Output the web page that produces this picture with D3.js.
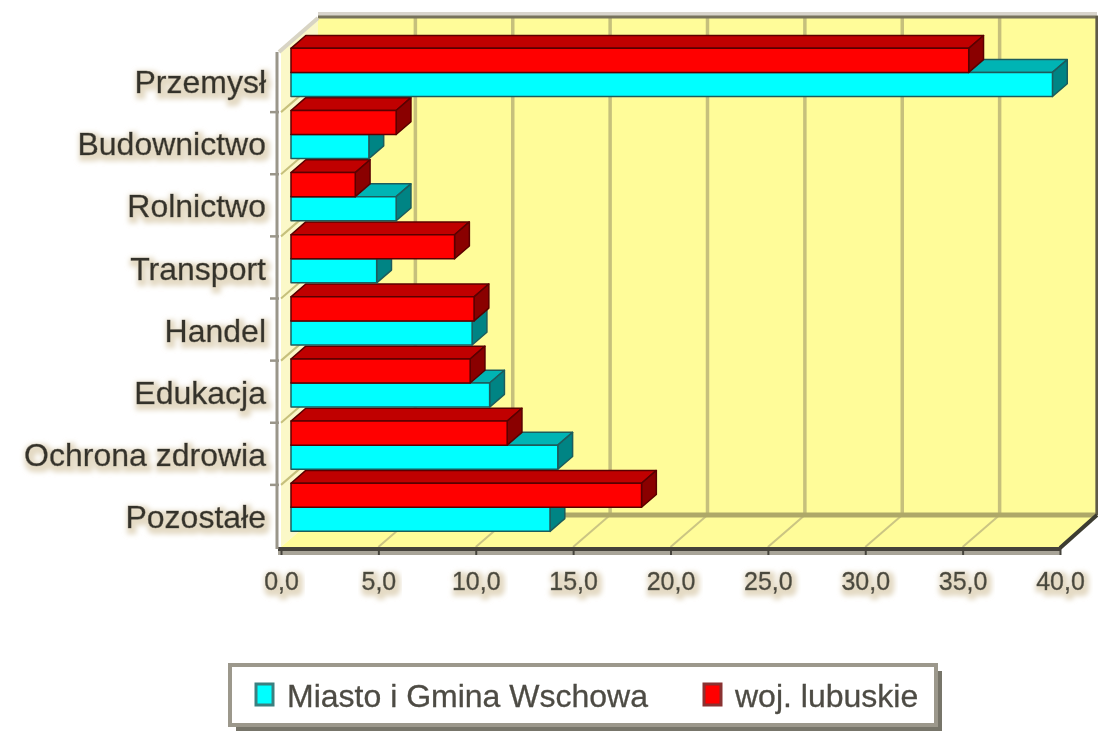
<!DOCTYPE html>
<html>
<head>
<meta charset="utf-8">
<script src="https://cdn.jsdelivr.net/npm/d3@7"></script>
<style>
  html, body { margin: 0; padding: 0; background: #fff; }
  svg { display: block; }
  text { font-family: "Liberation Sans", Arial, sans-serif; }
</style>
</head>
<body>
<svg id="chart" width="1098" height="736"></svg>
<script>
const categories = ['Przemysł', 'Budownictwo', 'Rolnictwo', 'Transport', 'Handel', 'Edukacja', 'Ochrona zdrowia', 'Pozostałe'];
const miasto = [39.1, 4.0, 5.4, 4.4, 9.3, 10.2, 13.7, 13.3];
const lubuskie = [34.8, 5.4, 3.3, 8.4, 9.4, 9.2, 11.1, 18.0];
const seriesNames = ['Miasto i Gmina Wschowa', 'woj. lubuskie'];
const xTicks = [0, 5, 10, 15, 20, 25, 30, 35, 40];

const svg = d3.select('#chart');
const defs = svg.append('defs');

// soft beige halo behind texts, like the source image
const halo = defs.append('filter').attr('id', 'halo')
    .attr('x', '-10%').attr('y', '-40%').attr('width', '125%').attr('height', '190%');
halo.append('feMorphology').attr('in', 'SourceAlpha').attr('operator', 'dilate').attr('radius', 3).attr('result', 'd');
halo.append('feOffset').attr('in', 'd').attr('dx', 2).attr('dy', 3).attr('result', 'o');
halo.append('feGaussianBlur').attr('in', 'o').attr('stdDeviation', 2.5).attr('result', 'b');
halo.append('feFlood').attr('flood-color', '#e4dac4');
halo.append('feComposite').attr('in2', 'b').attr('operator', 'in').attr('result', 'h');
const hm = halo.append('feMerge');
hm.append('feMergeNode').attr('in', 'h');
hm.append('feMergeNode').attr('in', 'SourceGraphic');

const soft = defs.append('filter').attr('id', 'soft');
soft.append('feGaussianBlur').attr('stdDeviation', 0.6);

const root = svg.append('g').attr('filter', 'url(#soft)');

// front plane geometry and depth offset
const x = d3.scaleLinear().domain([0, 40]).range([281, 1060]);
const y = d3.scaleBand().domain(categories).range([50, 547]).paddingInner(0.225).paddingOuter(0.1125);
const yEdge = d3.scaleBand().domain(categories).range([50, 547]);
const sub = d3.scaleBand().domain(['lubuskie', 'miasto']).range([0, y.bandwidth()]);
const DX = 37, DY = 32;
const zBar = 0.27, zDepth = 0.4;

const yTop = 50, yBottom = 547;
const x0 = x(0), x1 = x(40);

// left wall
root.append('polygon')
    .attr('points', [[x0, yTop], [x0 + DX, yTop - DY], [x0 + DX, yBottom - DY], [x0, yBottom]].join(' '))
    .attr('fill', '#fbf8c8');

// back wall
root.append('rect')
    .attr('x', x0 + DX).attr('y', yTop - DY)
    .attr('width', x1 - x0).attr('height', yBottom - yTop)
    .attr('fill', '#fffc99');

// floor
root.append('polygon')
    .attr('points', [[x0, yBottom], [x1, yBottom], [x1 + DX, yBottom - DY], [x0 + DX, yBottom - DY]].join(' '))
    .attr('fill', '#fffc99');

// gridlines on back wall and floor
root.append('g').selectAll('line').data(xTicks.slice(1)).join('line')
    .attr('x1', d => x(d) + DX).attr('x2', d => x(d) + DX)
    .attr('y1', yTop - DY).attr('y2', yBottom - DY)
    .attr('stroke', '#c6c07c').attr('stroke-width', 3.5);
root.append('g').selectAll('line').data(xTicks.slice(1)).join('line')
    .attr('x1', d => x(d)).attr('x2', d => x(d) + DX)
    .attr('y1', yBottom).attr('y2', yBottom - DY)
    .attr('stroke', '#cbc583').attr('stroke-width', 2);

// left wall gridlines at category boundaries
const bounds = categories.slice(1).map(c => yEdge(c));
root.append('g').selectAll('line').data(bounds).join('line')
    .attr('x1', x0).attr('x2', x0 + DX)
    .attr('y1', d => d).attr('y2', d => d - DY)
    .attr('stroke', '#c6c07c').attr('stroke-width', 2);

// wall edges
root.append('line').attr('x1', x0 + DX).attr('x2', x1 + DX)
    .attr('y1', yBottom - DY).attr('y2', yBottom - DY)
    .attr('stroke', '#aea868').attr('stroke-width', 5);
root.append('line').attr('x1', x0 + DX).attr('x2', x1 + DX)
    .attr('y1', yTop - DY - 4).attr('y2', yTop - DY - 4)
    .attr('stroke', '#d8d4cc').attr('stroke-width', 4);
root.append('line').attr('x1', x0 + DX).attr('x2', x1 + DX + 1)
    .attr('y1', yTop - DY - 1).attr('y2', yTop - DY - 1)
    .attr('stroke', '#77725c').attr('stroke-width', 3);
root.append('line').attr('x1', x1 + DX).attr('x2', x1 + DX)
    .attr('y1', yTop - DY - 2).attr('y2', yBottom - DY)
    .attr('stroke', '#5e5a48').attr('stroke-width', 3);
root.append('line').attr('x1', x0 - 2).attr('x2', x0 + DX)
    .attr('y1', yTop + 2).attr('y2', yTop - DY)
    .attr('stroke', '#d8d4c4').attr('stroke-width', 4);
root.append('line').attr('x1', x1).attr('x2', x1 + DX)
    .attr('y1', yBottom + 1).attr('y2', yBottom - DY)
    .attr('stroke', '#3e3c30').attr('stroke-width', 4);

// bars, drawn from bottom to top so upper fronts cover lower tops
const bars = [];
categories.forEach((c, i) => {
    bars.push({ cat: c, key: 'lubuskie', v: lubuskie[i], front: '#ff0000', topc: '#c00000', side: '#8a0000', edge: '#5a0000' });
    bars.push({ cat: c, key: 'miasto', v: miasto[i], front: '#00ffff', topc: '#00b4b4', side: '#008484', edge: '#1e5c5c' });
});
bars.sort((a, b) => (y(b.cat) + sub(b.key)) - (y(a.cat) + sub(a.key)));

const bx = zBar * DX, by = zBar * DY;
const ddx = zDepth * DX, ddy = zDepth * DY;
const gBars = root.append('g');
bars.forEach(d => {
    const xl = x(0) + bx, xr = x(d.v) + bx;
    const yt = y(d.cat) + sub(d.key) - by;
    const yb = yt + sub.bandwidth();
    const g = gBars.append('g').attr('stroke', d.edge).attr('stroke-width', 1.5).attr('stroke-linejoin', 'round');
    g.append('polygon')
        .attr('points', [[xl, yt], [xr, yt], [xr + ddx, yt - ddy], [xl + ddx, yt - ddy]].join(' '))
        .attr('fill', d.topc);
    g.append('polygon')
        .attr('points', [[xr, yt], [xr + ddx, yt - ddy], [xr + ddx, yb - ddy], [xr, yb]].join(' '))
        .attr('fill', d.side);
    g.append('rect')
        .attr('x', xl).attr('y', yt).attr('width', xr - xl).attr('height', yb - yt)
        .attr('fill', d.front);
});

// floor front edge and x axis
root.append('line').attr('x1', x0 - 3).attr('x2', x1 + 1)
    .attr('y1', yBottom + 6).attr('y2', yBottom + 6)
    .attr('stroke', '#a8a498').attr('stroke-width', 4);
root.append('line').attr('x1', x0 - 3).attr('x2', x1 + 1)
    .attr('y1', yBottom + 2).attr('y2', yBottom + 2)
    .attr('stroke', '#45433a').attr('stroke-width', 4);

const xAxis = root.append('g')
    .attr('transform', `translate(0,${yBottom + 2})`)
    .call(d3.axisBottom(x).tickValues(xTicks).tickSize(6).tickPadding(16)
        .tickFormat(d => d3.format('.1f')(d).replace('.', ',')));
xAxis.select('.domain').remove();
xAxis.selectAll('line').attr('stroke', '#45433a').attr('stroke-width', 2);
xAxis.selectAll('text')
    .attr('font-size', 25).attr('fill', '#4a483e').attr('stroke', '#4a483e').attr('stroke-width', 0.5)
    .attr('dy', '0.75em')
    .attr('filter', 'url(#halo)');

// y axis
root.append('line').attr('x1', x0 - 4).attr('x2', x0 - 4)
    .attr('y1', yTop + 2).attr('y2', yBottom + 2)
    .attr('stroke', '#9a968a').attr('stroke-width', 3);
const yAxis = root.append('g')
    .attr('transform', `translate(${x0 - 15},0)`)
    .call(d3.axisLeft(yEdge).tickSize(0).tickPadding(0));
yAxis.select('.domain').remove();
yAxis.selectAll('text')
    .attr('font-size', 32).attr('fill', '#34322a').attr('stroke', '#34322a').attr('stroke-width', 0.5)
    .attr('dy', '0.38em')
    .attr('filter', 'url(#halo)');
root.append('g').selectAll('line').data(bounds).join('line')
    .attr('x1', x0 - 11).attr('x2', x0 - 2)
    .attr('y1', d => d).attr('y2', d => d)
    .attr('stroke', '#9a968a').attr('stroke-width', 2.5);

// legend
const lg = root.append('g').attr('transform', 'translate(230,665)');
lg.append('rect').attr('x', 6).attr('y', 6).attr('width', 706).attr('height', 60).attr('fill', '#77746a');
lg.append('rect').attr('x', 0).attr('y', 0).attr('width', 706).attr('height', 60)
    .attr('fill', '#ffffff').attr('stroke', '#9c988c').attr('stroke-width', 4);
const legendItems = [
    { name: seriesNames[0], fill: '#00ffff', edge: '#3a8080', x: 26 },
    { name: seriesNames[1], fill: '#ff0000', edge: '#8a3030', x: 474 }
];
legendItems.forEach(it => {
    lg.append('rect').attr('x', it.x).attr('y', 19).attr('width', 17).attr('height', 21)
        .attr('fill', it.fill).attr('stroke', it.edge).attr('stroke-width', 3);
    lg.append('text').attr('x', it.x + 31).attr('y', 42)
        .attr('font-size', 32).attr('fill', '#4e4c44').attr('stroke', '#4e4c44').attr('stroke-width', 0.3)
        .text(it.name);
});
</script>
</body>
</html>
